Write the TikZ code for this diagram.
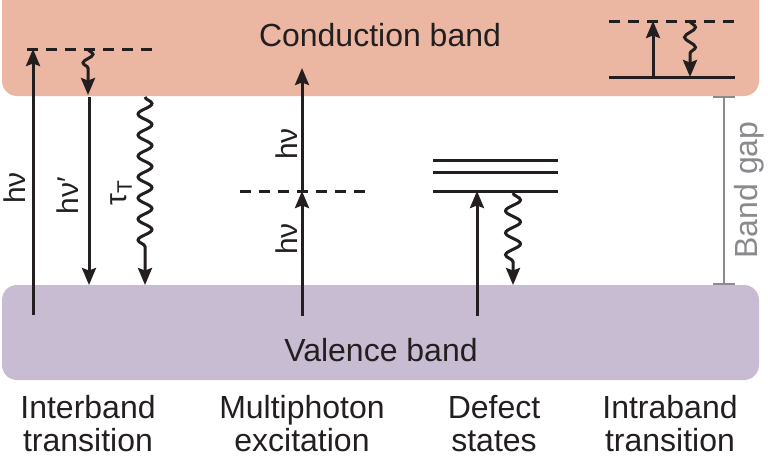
\documentclass[tikz,border=0pt]{standalone}
\usepackage{fontspec}
\setmainfont{Liberation Sans}
\usetikzlibrary{arrows.meta,decorations.pathmorphing}
\definecolor{cband}{RGB}{235,183,163}
\definecolor{vband}{RGB}{199,188,210}
\definecolor{ink}{RGB}{35,31,32}
\definecolor{gapgray}{RGB}{138,138,142}
\tikzset{
  lbl/.style={font=\fontsize{32}{38}\selectfont, text=ink, inner sep=0pt, anchor=base},
  rlbl/.style={font=\fontsize{30}{36}\selectfont, text=ink, inner sep=0pt, anchor=base, rotate=90},
  arr/.style={draw=ink, line width=3pt, -{Stealth[length=17pt,width=14pt,inset=2.5pt]}},
  lev/.style={draw=ink, line width=3pt},
  dlev/.style={draw=ink, line width=3pt, dash pattern=on 11pt off 8pt},
  gapline/.style={draw=gapgray, line width=2.5pt},
}
\begin{document}
\begin{tikzpicture}[x=1pt,y=-1pt]
\useasboundingbox (0,0) rectangle (768,456);
% bands
\begin{scope}
  \clip (0,0) rectangle (768,456);
  \fill[cband, rounded corners=15pt] (2,-30) rectangle (759,96);
\end{scope}
\fill[vband, rounded corners=15pt] (2,285) rectangle (759,380);
\node[lbl] (cb) at (380,46) {Conduction band};
\node[lbl] (vb) at (381,361) {Valence band};

% ---- Interband transition
\coordinate (ibl) at (27,49);
\coordinate (ibr) at (153,49);
\draw[dlev] (ibl) -- (ibr);
\coordinate (ia0) at (33,315);
\coordinate (ia1) at (33,49);
\draw[arr] (ia0) -- (ia1);
\coordinate (iw0) at (88,49);
\coordinate (iw1) at (88,95);
\draw[arr, decorate, decoration={snake, amplitude=5pt, segment length=17pt, post length=22pt}] (iw0) -- (iw1);
\coordinate (ie0) at (89,97);
\coordinate (ie1) at (89,285);
\draw[arr] (ie0) -- (ie1);
\coordinate (it0) at (145,97);
\coordinate (it1) at (145,285);
\draw[arr, decorate, decoration={snake, amplitude=7pt, segment length=21pt, post length=30pt}] (it0) -- (it1);
\node[rlbl] (hv1) at (25,188) {hν};
\node[rlbl] (hv2) at (78,196) {hν′};
\node[rlbl] (tau) at (126,193) {τ\textsubscript{T}};

% ---- Multiphoton excitation
\coordinate (mdl) at (240,191);
\coordinate (mdr) at (367,191);
\draw[dlev] (mdl) -- (mdr);
\coordinate (m0) at (302,316);
\coordinate (m1) at (302,191);
\coordinate (m2) at (302,68);
\draw[arr] (m0) -- (m1);
\draw[arr] (m1) -- (m2);
\node[rlbl] (hv3) at (297,144) {hν};
\node[rlbl] (hv4) at (297,239) {hν};

% ---- Defect states
\coordinate (d1l) at (433,160); \coordinate (d1r) at (558,160);
\coordinate (d2l) at (433,172); \coordinate (d2r) at (558,172);
\coordinate (d3l) at (433,191); \coordinate (d3r) at (558,191);
\draw[lev] (d1l) -- (d1r);
\draw[lev] (d2l) -- (d2r);
\draw[lev] (d3l) -- (d3r);
\coordinate (da0) at (477,316);
\coordinate (da1) at (477,191);
\draw[arr] (da0) -- (da1);
\coordinate (dw0) at (513,193);
\coordinate (dw1) at (513,285);
\draw[arr, decorate, decoration={snake, amplitude=7.5pt, segment length=22pt, post length=22pt}] (dw0) -- (dw1);

% ---- Intraband transition
\coordinate (nl) at (609,21); \coordinate (nr) at (735,21);
\coordinate (sl) at (609,77); \coordinate (sr) at (735,77);
\draw[dlev] (nl) -- (nr);
\draw[lev] (sl) -- (sr);
\coordinate (na0) at (653,77);
\coordinate (na1) at (653,21);
\draw[arr] (na0) -- (na1);
\coordinate (nw0) at (690,21);
\coordinate (nw1) at (690,77);
\draw[arr, decorate, decoration={snake, amplitude=5.5pt, segment length=20pt, post length=14pt}] (nw0) -- (nw1);

% ---- Band gap
\coordinate (g0) at (724,97);
\coordinate (g1) at (724,284);
\draw[gapline] (g0) -- (g1);
\draw[gapline] ([xshift=-11pt]g0) -- ([xshift=11pt]g0);
\draw[gapline] ([xshift=-11pt]g1) -- ([xshift=11pt]g1);
\node[rlbl, font=\fontsize{32}{38}\selectfont, text=gapgray] (bg) at (757,190) {Band gap};

% ---- bottom labels
\node[lbl] (t1a) at (88,418) {Interband};
\node[lbl] (t1b) at (88,451) {transition};
\node[lbl] (t2a) at (302,418) {Multiphoton};
\node[lbl] (t2b) at (302,451) {excitation};
\node[lbl] (t3a) at (494,418) {Defect};
\node[lbl] (t3b) at (494,451) {states};
\node[lbl] (t4a) at (670,418) {Intraband};
\node[lbl] (t4b) at (670,451) {transition};
\end{tikzpicture}
\end{document}
